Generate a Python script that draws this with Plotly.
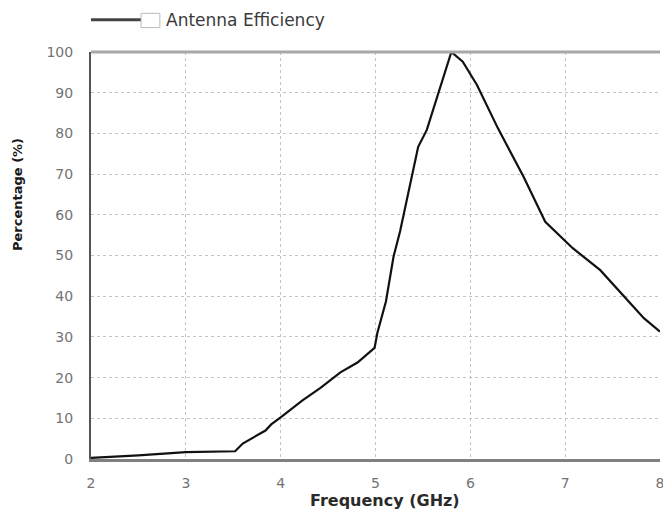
import plotly.graph_objects as go

freq_ghz = [2.0, 2.5, 3.0, 3.52, 3.6, 3.7, 3.84, 3.9, 4.0, 4.23, 4.42, 4.63, 4.81,
            4.99, 5.02, 5.11, 5.19, 5.26, 5.45, 5.54, 5.8, 5.92, 6.07, 6.29, 6.56,
            6.79, 7.08, 7.37, 7.61, 7.83, 8.0]
efficiency_pct = [0.3, 0.9, 1.7, 1.9, 3.8, 5.2, 7.0, 8.5, 10.2, 14.4, 17.5, 21.3, 23.7,
                  27.3, 31.0, 38.7, 49.7, 56.0, 76.7, 80.8, 100.0, 97.6, 91.9, 81.3, 69.4,
                  58.3, 51.8, 46.4, 40.3, 34.6, 31.3]
x_ticks = [2, 3, 4, 5, 6, 7, 8]
y_ticks = [0, 10, 20, 30, 40, 50, 60, 70, 80, 90, 100]
series_name = "Antenna Efficiency"
x_title = "Frequency (GHz)"
y_title = "Percentage (%)"

FONT = "DejaVu Sans"
TICK_COLOR = "#737373"

fig = go.Figure()
fig.add_trace(go.Scatter(x=freq_ghz, y=efficiency_pct, mode="lines",
                         line=dict(color="#111111", width=2.2), name=series_name,
                         showlegend=False, cliponaxis=False))

fig.update_layout(
    width=663, height=514,
    margin=dict(l=91, r=3, t=52, b=55, autoexpand=False),
    paper_bgcolor="white", plot_bgcolor="white",
    font=dict(family=FONT, size=14, color=TICK_COLOR),
    xaxis=dict(range=[2, 8], tickvals=x_ticks, ticktext=[str(v) for v in x_ticks],
               showgrid=True, gridcolor="#c4c4c4", griddash="dot", gridwidth=1,
               showline=True, linecolor="#808080", linewidth=3, mirror=False,
               zeroline=False, ticks="", ticklabelstandoff=9,
               ticklabeloverflow="allow", automargin=False,
               tickfont=dict(family=FONT, size=14, color=TICK_COLOR)),
    yaxis=dict(range=[0, 100], tickvals=y_ticks, ticktext=[str(v) for v in y_ticks],
               showgrid=True, gridcolor="#c4c4c4", griddash="dot", gridwidth=1,
               showline=True, linecolor="#555555", linewidth=2,
               zeroline=False, ticks="", ticklabelstandoff=13,
               ticklabeloverflow="allow", automargin=False,
               tickfont=dict(family=FONT, size=14, color=TICK_COLOR)),
)

# axis titles
fig.add_annotation(xref="paper", yref="paper", x=0.517, y=-0.103, xanchor="center",
                   yanchor="middle", text="<b>" + x_title + "</b>", showarrow=False,
                   font=dict(family=FONT, size=16, color="#2a2a2a"))
fig.add_annotation(xref="paper", yref="paper", x=-0.128, y=0.649, xanchor="center",
                   yanchor="middle", text="<b>" + y_title + "</b>", showarrow=False,
                   textangle=-90, font=dict(family=FONT, size=13, color="#1a1a1a"))

# top border of plot area
fig.add_shape(type="line", xref="paper", yref="paper", x0=0, x1=1, y0=1, y1=1,
              line=dict(color="#a8a8a8", width=3))

# custom legend (line sample + empty box + label)
fig.add_shape(type="line", xref="paper", yref="paper", x0=0.0, x1=0.088,
              y0=1.079, y1=1.079, line=dict(color="#444444", width=3))
fig.add_shape(type="rect", xref="paper", yref="paper", x0=0.088, x1=0.121,
              y0=1.06, y1=1.095, line=dict(color="#bbbbbb", width=1),
              fillcolor="white")
fig.add_annotation(xref="paper", yref="paper", x=0.128, y=1.079, xanchor="left",
                   yanchor="middle", text=series_name, showarrow=False,
                   font=dict(family=FONT, size=17, color="#3a3a3a"))

fig.write_html("out.html")
